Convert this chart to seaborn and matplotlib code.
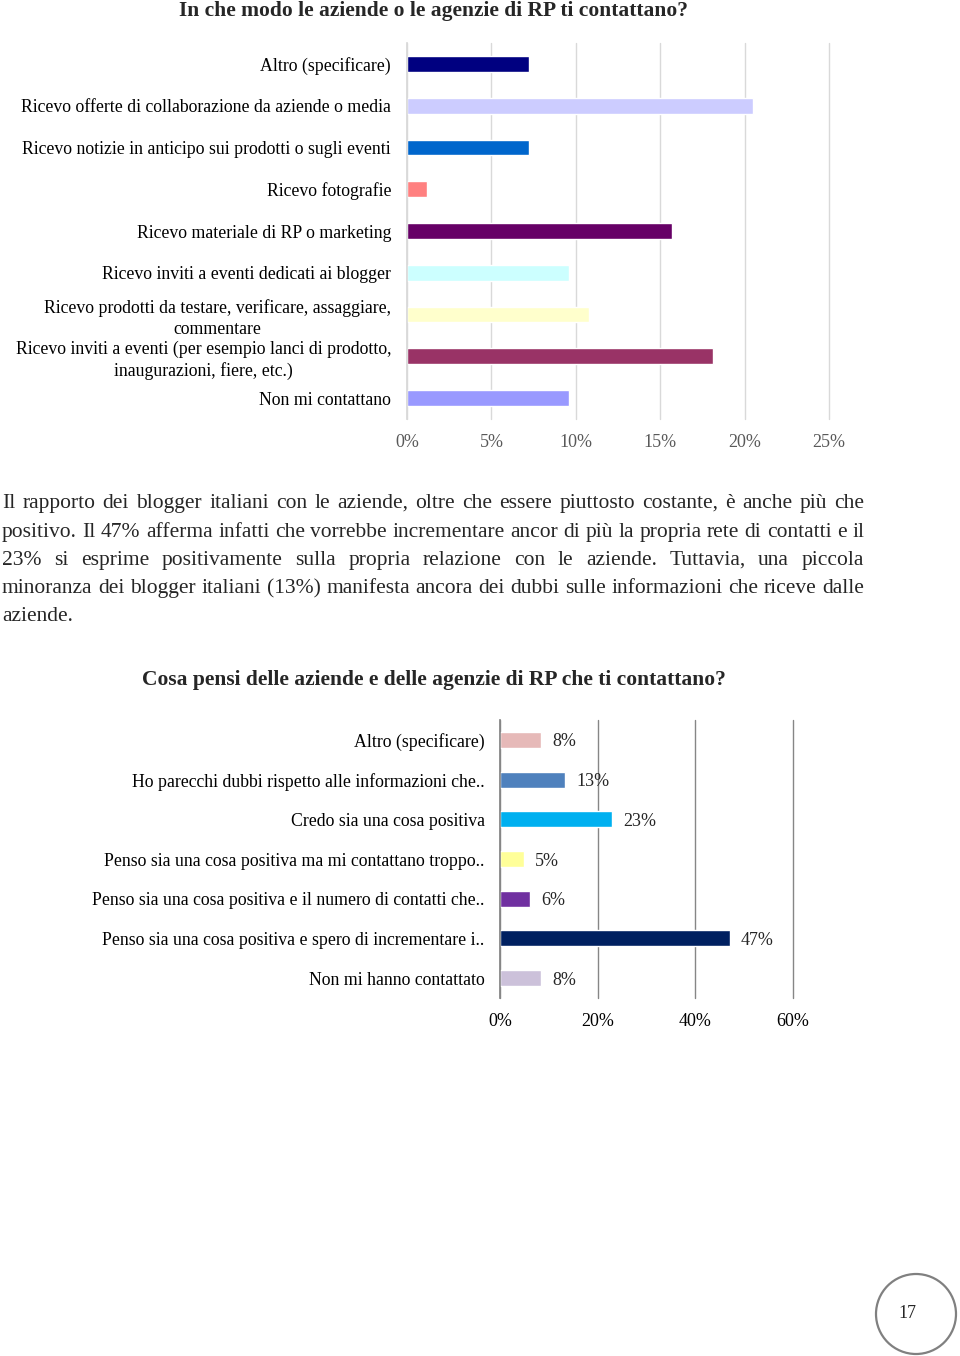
import matplotlib
matplotlib.use("Agg")
import matplotlib.pyplot as plt
from matplotlib.patches import Circle
import seaborn as sns

# ---------------- data ----------------
title1 = "In che modo le aziende o le agenzie di RP ti contattano?"
cats1 = [
    "Altro (specificare)",
    "Ricevo offerte di collaborazione da aziende o media",
    "Ricevo notizie in anticipo sui prodotti o sugli eventi",
    "Ricevo fotografie",
    "Ricevo materiale di RP o marketing",
    "Ricevo inviti a eventi dedicati ai blogger",
    "Ricevo prodotti da testare, verificare, assaggiare,\ncommentare",
    "Ricevo inviti a eventi (per esempio lanci di prodotto,\ninaugurazioni, fiere, etc.)",
    "Non mi contattano",
]
vals1 = [7.2, 20.5, 7.2, 1.2, 15.7, 9.6, 10.8, 18.1, 9.6]
colors1 = ["#000080", "#CCCCFF", "#0066CC", "#FF8080", "#660066",
           "#CCFFFF", "#FFFFCC", "#993366", "#9999FF"]
ticks1 = [0, 5, 10, 15, 20, 25]

title2 = "Cosa pensi delle aziende e delle agenzie di RP che ti contattano?"
cats2 = [
    "Altro (specificare)",
    "Ho parecchi dubbi rispetto alle informazioni che..",
    "Credo sia una cosa positiva",
    "Penso sia una cosa positiva ma mi contattano troppo..",
    "Penso sia una cosa positiva e il numero di contatti che..",
    "Penso sia una cosa positiva e spero di incrementare i..",
    "Non mi hanno contattato",
]
vals2 = [8.4, 13.3, 23.0, 4.9, 6.1, 47.1, 8.4]
colors2 = ["#E6B9B8", "#4F81BD", "#00B0F0", "#FFFF99", "#7030A0",
           "#002060", "#CCC1DA"]
ticks2 = [0, 20, 40, 60]

paragraph = [
    "Il rapporto dei blogger italiani con le aziende, oltre che essere piuttosto costante, è anche più che",
    "positivo. Il 47% afferma infatti che vorrebbe incrementare ancor di più la propria rete di contatti e il",
    "23% si esprime positivamente sulla propria relazione con le aziende. Tuttavia, una piccola",
    "minoranza dei blogger italiani (13%) manifesta ancora dei dubbi sulle informazioni che riceve dalle",
    "aziende.",
]
page_number = "17"

# ---------------- style ----------------
sns.set_theme(style="white")
plt.rcParams["font.family"] = ["Liberation Serif", "DejaVu Serif"]

W, H = 960, 1356
fig = plt.figure(figsize=(W / 100, H / 100), dpi=100)
fig.patch.set_facecolor("white")


def px_axes(left, top, right, bottom):
    return fig.add_axes([left / W, 1 - bottom / H, (right - left) / W, (bottom - top) / H])


def fx(x):
    return x / W


def fy(y):
    return 1 - y / H


# ---------------- chart 1 ----------------
ax1 = px_axes(407, 43, 829, 419)
sns.barplot(x=vals1, y=cats1, hue=cats1, palette=colors1, legend=False,
            width=0.38, saturation=1, ax=ax1, orient="h")
ax1.set_xlim(0, 25)
ax1.set_ylim(len(cats1) - 0.5, -0.5)
ax1.set_xticks(ticks1)
ax1.set_xticklabels([f"{t}%" for t in ticks1], color="#595959", fontsize=13)
ax1.xaxis.grid(True, color="#D9D9D9", lw=1)
ax1.set_axisbelow(True)
for s in ["top", "right", "bottom"]:
    ax1.spines[s].set_visible(False)
ax1.spines["left"].set_color("#D9D9D9")
ax1.tick_params(axis="x", length=4, color="#D9D9D9", pad=7)
ax1.tick_params(axis="y", length=0, pad=11.5, labelsize=12.8)
for lab in ax1.get_yticklabels():
    lab.set_multialignment("center")
    lab.set_linespacing(1.3)
    lab.set_color("black")
for gl in ax1.get_xgridlines():
    gl.set_clip_on(False)
ax1.set_xlabel("")
ax1.set_ylabel("")
fig.text(fx(433.5), fy(11), title1, ha="center", va="center",
         fontsize=15.5, fontweight="bold")

# ---------------- chart 2 ----------------
ax2 = px_axes(500, 720, 793, 998)
sns.barplot(x=vals2, y=cats2, hue=cats2, palette=colors2, legend=False,
            width=0.40, saturation=1, ax=ax2, orient="h")
ax2.set_xlim(0, 60)
ax2.set_ylim(len(cats2) - 0.5, -0.5)
ax2.set_xticks(ticks2)
ax2.set_xticklabels([f"{t}%" for t in ticks2], color="black", fontsize=13)
ax2.xaxis.grid(True, color="#868686", lw=1)
ax2.set_axisbelow(True)
for s in ["top", "right", "bottom"]:
    ax2.spines[s].set_visible(False)
ax2.spines["left"].set_color("#868686")
ax2.tick_params(axis="x", length=4, color="#868686", pad=6.5)
ax2.tick_params(axis="y", length=0, pad=11, labelsize=12.8)
for lab in ax2.get_yticklabels():
    lab.set_color("black")
for gl in ax2.get_xgridlines():
    gl.set_clip_on(False)
ax2.set_xlabel("")
ax2.set_ylabel("")
for cont in ax2.containers:
    anns = ax2.bar_label(cont, labels=[f"{v:.0f}%" for v in cont.datavalues],
                         padding=8, fontsize=13)
    for a in anns:
        a.set_va("center_baseline")
fig.text(fx(433.5), fy(680), title2, ha="center", va="center",
         fontsize=15.5, fontweight="bold")

# ---------------- justified paragraph ----------------
renderer = fig.canvas.get_renderer()
x_left, x_right = 2, 864
line_y = [501, 530, 558, 586, 614]
para_size = 15.5
for i, (line, yy) in enumerate(zip(paragraph, line_y)):
    words = line.split(" ")
    last = i == len(paragraph) - 1
    if last or len(words) == 1:
        fig.text(fx(x_left), fy(yy), line, ha="left", va="center_baseline",
                 fontsize=para_size)
        continue
    texts, widths = [], []
    for w in words:
        t = fig.text(0, fy(yy), w, ha="left", va="center_baseline", fontsize=para_size)
        widths.append(t.get_window_extent(renderer).width)
        texts.append(t)
    gap = (x_right - x_left - sum(widths)) / (len(words) - 1)
    x = x_left
    for t, wd in zip(texts, widths):
        t.set_x(fx(x))
        x += wd + gap

# ---------------- page number ----------------
axc = fig.add_axes([fx(874), fy(1356), 84 / W, 84 / H])
axc.set_xlim(-42, 42)
axc.set_ylim(-42, 42)
axc.set_aspect("equal")
axc.axis("off")
axc.add_patch(Circle((0, 0), 40, facecolor="white", edgecolor="#808080", lw=1.6))
axc.text(-9, 0, page_number, ha="center", va="center", fontsize=13)

fig.savefig("out.png", dpi=100, facecolor="white")
